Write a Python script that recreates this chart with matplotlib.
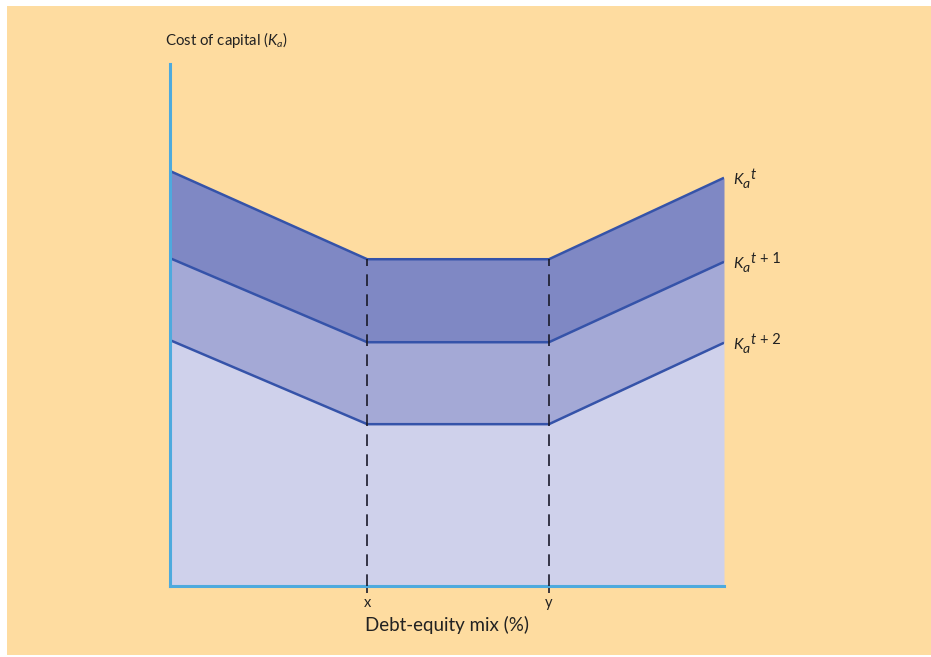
import numpy as np
import matplotlib.pyplot as plt
from matplotlib.patches import Rectangle

# break points on the debt-equity axis (0-100 scale)
mix = [0, 35.6, 68.4, 100]
tick_labels = ["x", "y"]

# cost of capital curves (0-100 scale)
ka_t = [79.5, 62.6, 62.6, 78.2]
ka_t1 = [62.8, 46.7, 46.7, 62.1]
ka_t2 = [47.1, 31.0, 31.0, 46.6]

curve_suffix = ["", "+ 1", "+ 2"]

peach = "#FEDCA0"
line_col = "#3553A9"
axis_col = "#4EAADD"
txt_col = "#222222"

plt.rcParams['font.family'] = ['Lato', 'DejaVu Sans']
plt.rcParams['mathtext.fontset'] = 'custom'
plt.rcParams['mathtext.rm'] = 'Lato'
plt.rcParams['mathtext.it'] = 'Lato:italic'

fig = plt.figure(figsize=(9.31, 6.57), dpi=100, facecolor="white")
# peach panel with thin white margin on top/left/bottom
fig.patches.append(Rectangle((7 / 931, 2 / 657), 1, 649 / 657, transform=fig.transFigure,
                             facecolor=peach, edgecolor="none", zorder=-10))

ax = fig.add_axes([170 / 931, 71 / 657, 554 / 931, 522 / 657])
ax.set_facecolor("none")
ax.set_xlim(0, 100)
ax.set_ylim(0, 100)

ax.fill_between(mix, 0, ka_t2, color="#CFD1EB", lw=0)
ax.fill_between(mix, ka_t2, ka_t1, color="#A4A9D6", lw=0)
ax.fill_between(mix, ka_t1, ka_t, color="#7F88C4", lw=0)

for ys in (ka_t, ka_t1, ka_t2):
    ax.plot(mix, ys, color=line_col, lw=1.8, solid_capstyle="butt")

# dashed guides at x and y
for i in (1, 2):
    ax.plot([mix[i], mix[i]], [0, ka_t[i]], color="#1a1a2a", lw=1.2,
            dashes=(7, 5), zorder=3)

# curve labels: K, subscript a, superscript t (+ n)
px = 72 / 100  # points per pixel
for ys, suf in zip((ka_t, ka_t1, ka_t2), curve_suffix):
    end = (mix[-1], ys[-1])
    parts = [("K", 11, "italic", 9, -6),
             ("a", 10, "italic", 18.5, -10),
             ("t", 10.5, "italic", 26.5, -1)]
    if suf:
        parts.append((suf, 10.5, "normal", 36, -1))
    for s, fs, st, dx, dy in parts:
        ax.annotate(s, xy=end, xytext=(dx * px, dy * px), textcoords="offset points",
                    fontsize=fs, fontstyle=st, color=txt_col, ha="left",
                    va="baseline", annotation_clip=False)

for s in ("top", "right"):
    ax.spines[s].set_visible(False)
for s in ("left", "bottom"):
    ax.spines[s].set_color(axis_col)
    ax.spines[s].set_linewidth(2.2)

ax.set_yticks([])
ax.set_xticks(mix[1:3])
ax.set_xticklabels(tick_labels, fontsize=10.5, color=txt_col)
ax.tick_params(axis="x", length=5, width=1.2, color="#1a1a2a", direction="out", pad=2.5)

ax.set_xlabel("Debt-equity mix (%)", fontsize=13.5, color=txt_col, labelpad=4)
fig.text(165 / 931, 1 - 40 / 657, r"Cost of capital ($K_a$)", fontsize=10.8,
         color=txt_col, ha="left", va="center")

fig.savefig("out.png", dpi=100, facecolor=fig.get_facecolor())
